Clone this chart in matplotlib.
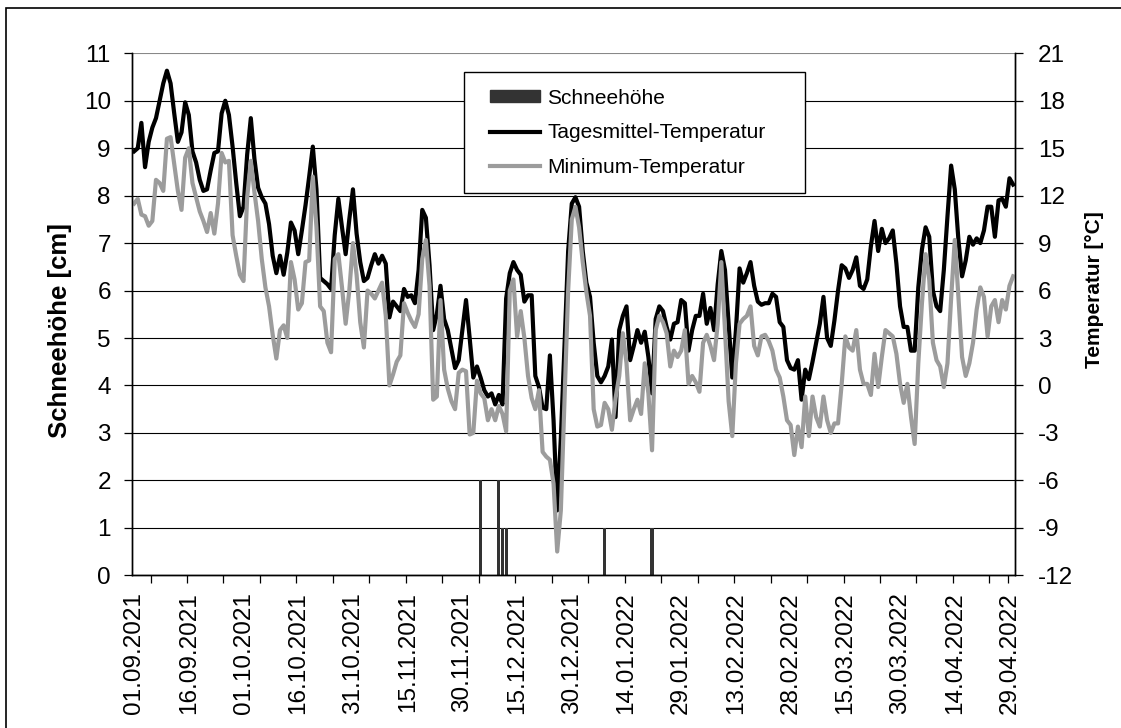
import matplotlib
matplotlib.use("Agg")
import matplotlib.pyplot as plt
from matplotlib.lines import Line2D
from matplotlib.patches import Patch, Rectangle
import pandas as pd

plt.rcParams['font.family'] = ['Liberation Sans', 'DejaVu Sans']
plt.rcParams['axes.unicode_minus'] = False

# daily values 01.09.2021 - 30.04.2022
dates = pd.date_range("2021-09-01", "2022-04-30", freq="D")

mean_temp = [
    14.8, 15.0, 16.6, 13.8, 15.4, 16.3, 16.9, 18.0, 19.1, 19.9,
    19.1, 17.2, 15.4, 16.0, 17.9, 17.1, 14.8, 14.1, 13.0, 12.3,
    12.4, 13.6, 14.7, 14.8, 17.2, 18.0, 17.1, 15.1, 12.8, 10.7,
    11.3, 14.6, 16.9, 14.3, 12.5, 11.9, 11.5, 10.2, 8.2, 7.1,
    8.2, 7.0, 8.4, 10.3, 9.8, 8.3, 9.8, 11.4, 13.2, 15.1,
    12.4, 6.8, 6.6, 6.4, 6.1, 9.5, 11.8, 10.0, 8.3, 10.5,
    12.4, 9.6, 7.8, 6.6, 6.8, 7.6, 8.3, 7.7, 8.2, 7.7,
    4.3, 5.3, 5.0, 4.7, 6.1, 5.6, 5.7, 5.2, 7.3, 11.1,
    10.6, 7.6, 3.5, 4.5, 6.3, 4.2, 3.5, 2.3, 1.1, 1.6,
    3.5, 5.4, 3.0, 0.5, 1.2, 0.5, -0.3, -0.7, -0.5, -1.2,
    -0.6, -1.2, 5.5, 7.1, 7.8, 7.3, 7.0, 5.3, 5.7, 5.7,
    0.6, -0.1, -1.4, -1.5, 1.9, -2.2, -7.9, -3.3, 2.5, 8.5,
    11.5, 11.9, 11.3, 8.5, 6.5, 5.6, 2.7, 0.6, 0.2, 0.6,
    1.2, 2.9, -2.0, 3.5, 4.4, 5.0, 1.6, 2.5, 3.5, 2.7,
    3.4, 1.8, -0.5, 4.2, 5.0, 4.7, 3.7, 2.9, 3.9, 4.0,
    5.4, 5.2, 2.2, 3.5, 4.4, 4.4, 5.8, 3.9, 4.9, 3.5,
    6.4, 8.5, 7.3, 3.9, 0.5, 3.5, 7.4, 6.5, 7.1, 7.8,
    6.3, 5.3, 5.1, 5.2, 5.2, 5.8, 5.6, 4.0, 3.7, 1.6,
    1.1, 1.0, 1.6, -0.9, 1.0, 0.4, 1.5, 2.7, 3.9, 5.6,
    3.0, 2.5, 4.1, 6.0, 7.6, 7.4, 6.8, 7.3, 8.1, 6.3,
    6.1, 6.7, 8.8, 10.4, 8.5, 9.9, 9.0, 9.3, 9.8, 7.7,
    5.0, 3.7, 3.7, 2.2, 2.2, 6.2, 8.6, 10.0, 9.4, 6.0,
    5.0, 4.7, 7.3, 10.7, 13.9, 12.4, 9.2, 6.9, 7.9, 9.4,
    8.9, 9.3, 9.0, 9.8, 11.3, 11.3, 9.4, 11.7, 11.8, 11.3,
    13.1, 12.7,
]

min_temp = [
    11.5, 11.8, 10.8, 10.7, 10.1, 10.4, 13.0, 12.8, 12.3, 15.6,
    15.7, 14.0, 12.3, 11.1, 14.4, 15.0, 12.8, 11.9, 11.0, 10.4,
    9.7, 10.9, 9.6, 11.5, 14.7, 14.1, 14.2, 9.5, 8.2, 7.0,
    6.6, 11.9, 14.2, 12.2, 10.4, 8.0, 6.2, 5.0, 3.2, 1.7,
    3.5, 3.8, 3.0, 7.8, 6.7, 4.8, 5.2, 7.8, 7.9, 13.2,
    10.0, 5.0, 4.7, 2.7, 2.1, 8.0, 8.3, 6.2, 3.9, 6.0,
    9.0, 7.0, 4.0, 2.4, 6.0, 5.8, 5.5, 6.0, 6.5, 4.4,
    0.0, 0.7, 1.5, 1.9, 5.2, 4.6, 4.1, 3.7, 4.5, 8.0,
    9.2, 6.3, -0.9, -0.7, 5.4, 1.0, -0.2, -1.0, -1.5, 0.8,
    1.0, 0.9, -3.1, -3.0, 0.3, -0.5, -0.8, -2.2, -1.5, -2.2,
    -1.3, -1.8, -2.9, 6.0, 6.7, 3.1, 4.7, 3.0, 0.6, -0.8,
    -1.5, -0.3, -4.2, -4.5, -4.7, -6.2, -10.5, -7.9, -1.0, 6.0,
    10.5, 11.3, 10.0, 7.8, 5.9, 4.4, -1.5, -2.6, -2.5, -1.1,
    -1.5, -2.8, -0.8, 0.6, 3.3, 1.4, -2.2, -1.5, -0.9, -1.8,
    1.4, -0.5, -4.1, 3.5, 4.4, 4.0, 3.3, 1.2, 2.2, 1.8,
    2.2, 3.5, 0.1, 0.6, 0.2, -0.4, 2.7, 3.2, 2.5, 1.6,
    3.9, 7.8, 3.5, -1.0, -3.2, 1.4, 3.9, 4.2, 4.4, 5.0,
    2.5, 1.9, 3.1, 3.2, 2.8, 2.2, 1.0, 0.5, -0.7, -2.2,
    -2.5, -4.4, -2.6, -3.9, -0.7, -3.2, -0.7, -2.0, -2.6, -0.7,
    -2.2, -3.0, -2.4, -2.4, 0.1, 3.1, 2.4, 2.2, 3.5, 1.0,
    0.1, 0.1, -0.6, 2.0, -0.1, 1.8, 3.5, 3.3, 3.1, 2.0,
    0.1, -1.1, 0.1, -2.0, -3.7, 1.4, 5.2, 8.3, 6.7, 2.7,
    1.6, 1.2, -0.1, 1.4, 5.5, 9.2, 5.6, 1.8, 0.6, 1.4,
    2.7, 4.8, 6.2, 5.6, 3.1, 5.0, 5.4, 4.0, 5.4, 4.8,
    6.3, 6.9,
]

snow_dates = ["2021-12-05", "2021-12-10", "2021-12-11", "2021-12-12",
              "2022-01-08", "2022-01-21"]
snow_cm = [2, 2, 1, 1, 1, 1]

x = list(range(len(dates)))
snow_x = [dates.get_loc(pd.Timestamp(d)) for d in snow_dates]
label_x = x[::15]
labels = [dates[i].strftime("%d.%m.%Y") for i in label_x]
tick_x = [i + 4.5 for i in range(0, 240, 10)] + [239.5]

fig = plt.figure(figsize=(11.21, 7.28), dpi=100)
ax = fig.add_axes([0.118, 0.2098, 0.7874, 0.7170])
ax2 = ax.twinx()

# snow depth bars (left axis)
ax.bar(snow_x, snow_cm, width=0.85, color="#333333", zorder=2)
ax.set_ylim(0, 11)
ax.set_yticks(range(0, 12))
ax.set_xlim(-0.5, len(dates) - 0.5)
ax.grid(axis="y", color="black", linewidth=0.8, zorder=0)
ax.set_axisbelow(True)
ax.yaxis.get_gridlines()[-1].set_color("#888888")

# temperatures (right axis)
ax2.plot(x, mean_temp, color="black", linewidth=3.0, solid_joinstyle="round")
ax2.plot(x, min_temp, color="#9c9c9c", linewidth=3.0, solid_joinstyle="round")
ax2.set_ylim(-12, 21)
ax2.set_yticks(range(-12, 22, 3))

ax.set_xticks(label_x)
ax.set_xticklabels(labels, rotation=90)
ax.set_xticks(tick_x, minor=True)
ax.tick_params(axis="x", which="major", length=0, pad=12, labelsize=17.5)
ax.tick_params(axis="x", which="minor", length=5.5, width=0.9, direction="out")
ax.tick_params(axis="y", length=5.5, width=0.9, pad=10, labelsize=17.5)
ax2.tick_params(axis="y", length=5.5, width=0.9, pad=11, labelsize=17.5)

for a in (ax, ax2):
    a.spines["top"].set_visible(False)
    for s in ("left", "right", "bottom"):
        a.spines[s].set_linewidth(1.0)

ax.set_ylabel("Schneehöhe [cm]", fontsize=18.5, fontweight="bold")
ax.yaxis.set_label_coords(-0.0683, 0.468)
ax2.set_ylabel("Temperatur [°C]", fontsize=15, fontweight="bold")
ax2.yaxis.set_label_coords(1.0793, 0.5466)

# legend box
ax2.add_patch(Rectangle((0.3758, 0.7324), 0.3862, 0.2324, transform=ax2.transAxes,
                        facecolor="white", edgecolor="black", linewidth=1.0,
                        zorder=5, clip_on=False))
handles = [Patch(color="#333333"),
           Line2D([], [], color="black", linewidth=3.0),
           Line2D([], [], color="#9c9c9c", linewidth=3.0)]
leg = ax2.legend(handles, ["Schneehöhe", "Tagesmittel-Temperatur", "Minimum-Temperatur"],
                 loc="center left", bbox_to_anchor=(0.4052, 0.8477), frameon=False,
                 fontsize=15, handlelength=2.4, handleheight=0.5, handletextpad=0.35,
                 labelspacing=0.75, borderpad=0, borderaxespad=0)
leg.set_zorder(6)

# outer frame of the picture
fig.add_artist(Rectangle((6 / 1121, -0.1), 1.2, 1.1 - 8 / 728, transform=fig.transFigure,
                         fill=False, edgecolor="black", linewidth=1.2))

fig.savefig("out.png", dpi=100)
